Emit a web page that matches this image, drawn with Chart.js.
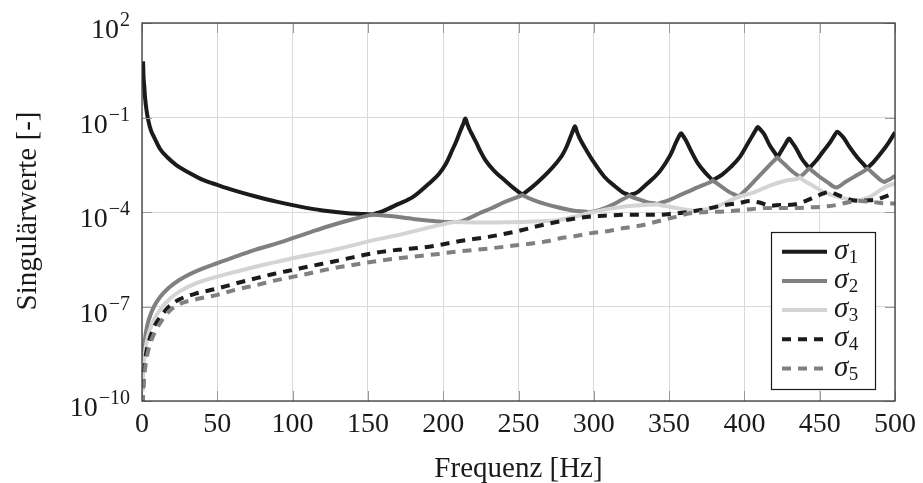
<!DOCTYPE html>
<html><head><meta charset="utf-8">
<script src="https://cdn.jsdelivr.net/npm/chart.js@4/dist/chart.umd.min.js"></script>
<style>html,body{margin:0;padding:0;background:#fff;} #c{display:block;}</style>
</head><body>
<canvas id="c" width="923" height="483"></canvas>
<script>
// ---------- data (values given as log10 exponents) ----------
const xTickValues = [0, 50, 100, 150, 200, 250, 300, 350, 400, 450, 500];
const yTickExponents = [-10, -7, -4, -1, 2];
const seriesNames = ['σ', 'σ', 'σ', 'σ', 'σ'];
const seriesSubscripts = ['1', '2', '3', '4', '5'];
const xTitle = 'Frequenz [Hz]';
const yTitle = 'Singulärwerte [-]';

const freqS1 = [0.7,1,1.5,2,3,4,6,8,12,17,23,30,40,50,60,75,90,105,120,135,145,152,153,154,
  160,170,180,190,197,202,206,209,211.5,213.5,214.7,216,217.5,219,222,225,228,234,241,247,251.3,252.5,253.7,
  258,264,270,275,279,282,284.5,286.3,287.5,288.8,290.5,294,300,307,314,320,322.3,323.5,324.7,
  328,335,342.6,348,351.4,354,356.5,358,359.5,361.3,365,369,374,377.8,379,380.2,
  385,391,397,402,405,407.5,408.8,410.5,413,417,421,422,423,
  425,427.5,429.7,431.5,434,438,441.8,443,444.2,
  448,453,457,460,461.6,463.5,466,470,475,480.3,481.5,482.7,
  486,492,496,500];
const expS1 = [0.78,0.3,0.0,-0.35,-0.77,-1.05,-1.42,-1.62,-2.0,-2.27,-2.52,-2.72,-2.97,-3.14,-3.3,-3.5,-3.68,-3.83,-3.95,-4.03,-4.06,-4.075,-4.08,-4.06,
  -3.97,-3.75,-3.52,-3.12,-2.8,-2.45,-2.04,-1.72,-1.41,-1.18,-1.03,-1.2,-1.38,-1.52,-1.8,-2.1,-2.35,-2.7,-3.0,-3.25,-3.41,-3.46,-3.41,
  -3.25,-3.0,-2.72,-2.45,-2.2,-1.92,-1.62,-1.4,-1.28,-1.45,-1.65,-1.95,-2.42,-2.88,-3.18,-3.4,-3.44,-3.48,-3.45,
  -3.4,-3.12,-2.78,-2.42,-2.14,-1.85,-1.6,-1.5,-1.6,-1.74,-2.1,-2.45,-2.75,-2.94,-3.0,-2.96,
  -2.82,-2.57,-2.25,-1.85,-1.6,-1.4,-1.3,-1.38,-1.52,-1.9,-2.18,-2.27,-2.18,
  -2.02,-1.82,-1.67,-1.78,-1.95,-2.3,-2.54,-2.62,-2.55,
  -2.35,-2.03,-1.78,-1.55,-1.45,-1.52,-1.65,-1.95,-2.27,-2.55,-2.62,-2.56,
  -2.4,-2.05,-1.78,-1.47];

const freqS2 = [0.4,1,2,3.5,5.5,8,12,18,25,35,50,62,75,88,100,113,126,140,152,153,154,
  165,180,195,205,212,218,224,232,241,247,251.3,252.5,253.7,
  260,268,276,287,295.8,297,298.2,305,312,318,322.3,323.5,324.7,
  330,336,340.8,342,343.2,350,358,366,373,377.8,379,380.2,
  385,390,394.8,396,397.2,402,408,414,418,421,422,423,
  427,432,436,437,438,440,441.8,443,444.2,
  449,455,461,467,474,480.3,481.5,482.7,
  486,490,492,493,494,497,500];
const expS2 = [-9.2,-8.55,-8.02,-7.6,-7.28,-7.0,-6.7,-6.4,-6.15,-5.9,-5.62,-5.42,-5.2,-5.02,-4.83,-4.62,-4.42,-4.23,-4.09,-4.08,-4.085,
  -4.13,-4.22,-4.29,-4.32,-4.3,-4.18,-4.04,-3.88,-3.68,-3.57,-3.49,-3.46,-3.49,
  -3.62,-3.75,-3.85,-3.96,-4.0,-4.02,-4.0,-3.92,-3.78,-3.63,-3.52,-3.48,-3.51,
  -3.6,-3.7,-3.73,-3.75,-3.73,-3.62,-3.45,-3.28,-3.14,-3.04,-3.0,-3.04,
  -3.2,-3.37,-3.48,-3.52,-3.47,-3.25,-2.95,-2.65,-2.45,-2.31,-2.27,-2.32,
  -2.5,-2.72,-2.86,-2.9,-2.85,-2.76,-2.67,-2.62,-2.66,
  -2.85,-3.05,-3.22,-3.05,-2.85,-2.67,-2.62,-2.66,
  -2.8,-2.97,-3.03,-3.05,-3.02,-2.95,-2.85];

const freqS3 = [0.4,0.9,2,3.5,5.3,8,12,18,25,35,50,62,76,88,100,113,126.5,140,153,165,179,190,199,208,220,235,250,265,276,287,297,310,322,333,340.8,342,343.2,351,360,369,376,383,390,396,405,417,428,436,437,438,445,453,462,470,476,483,488,493,497,500];
const expS3 = [-9.7,-9.05,-8.45,-8.03,-7.73,-7.42,-7.1,-6.78,-6.52,-6.28,-6.05,-5.9,-5.73,-5.6,-5.47,-5.34,-5.21,-5.06,-4.9,-4.78,-4.63,-4.5,-4.4,-4.32,-4.33,-4.33,-4.32,-4.29,-4.26,-4.15,-4.03,-3.9,-3.82,-3.78,-3.76,-3.75,-3.77,-3.84,-3.92,-3.96,-3.9,-3.8,-3.65,-3.52,-3.4,-3.16,-3.0,-2.93,-2.9,-2.95,-3.15,-3.37,-3.52,-3.6,-3.62,-3.53,-3.38,-3.22,-3.14,-3.1];

const freqS4 = [0.3,0.9,2,3.5,5.3,8,12,18,25,35,50,62,76,88,100,113,126.5,140,153,170,186,197,208,220,230,240,250,260,270,277,288,298,310,320,332,342,353,364,375,387,396,404,410,417,424,433,440,447,452,456,460,465,471,477,483,488,493,497,500];
const expS4 = [-10.1,-9.35,-8.74,-8.3,-8.0,-7.65,-7.34,-7.0,-6.77,-6.6,-6.43,-6.27,-6.1,-5.96,-5.84,-5.71,-5.58,-5.44,-5.31,-5.2,-5.13,-5.05,-4.95,-4.86,-4.79,-4.7,-4.6,-4.48,-4.37,-4.3,-4.2,-4.14,-4.11,-4.09,-4.09,-4.09,-4.05,-3.99,-3.9,-3.78,-3.72,-3.65,-3.7,-3.8,-3.78,-3.76,-3.66,-3.52,-3.42,-3.36,-3.42,-3.52,-3.62,-3.64,-3.63,-3.6,-3.52,-3.45,-3.4];

const freqS5 = [0.4,0.9,2,3.5,5.3,8,12,18,25,35,50,62,76,88,100,113,126.5,140,153,170,186,197,208,220,230,250,270,277,288,298,310,320,332,342,353,364,376,387,400,411,422,433,445,455,463,470,477,485,492,500];
const expS5 = [-10.1,-9.65,-9.0,-8.54,-8.2,-7.87,-7.53,-7.15,-6.92,-6.78,-6.63,-6.47,-6.32,-6.18,-6.06,-5.93,-5.79,-5.68,-5.58,-5.47,-5.39,-5.33,-5.26,-5.21,-5.16,-5.05,-4.92,-4.84,-4.76,-4.67,-4.6,-4.51,-4.42,-4.3,-4.17,-4.04,-4.0,-3.98,-3.93,-3.88,-3.87,-3.87,-3.85,-3.82,-3.76,-3.68,-3.65,-3.68,-3.72,-3.73];

// ---------- styling ----------
const SERIF = '"Liberation Serif", "DejaVu Serif", serif';
const styles = [
  {color: '#1c1a1a', dash: []},
  {color: '#808080', dash: []},
  {color: '#d4d4d4', dash: []},
  {color: '#1c1a1a', dash: [9, 7]},
  {color: '#808080', dash: [9, 7]}
];
const freqs = [freqS1, freqS2, freqS3, freqS4, freqS5];
const exps = [expS1, expS2, expS3, expS4, expS5];

const datasets = freqs.map((fr, k) => ({
  label: seriesNames[k] + seriesSubscripts[k],
  data: fr.map((f, i) => ({x: f, y: Math.pow(10, exps[k][i])})),
  borderColor: styles[k].color,
  borderDash: styles[k].dash,
  borderWidth: 4,
  borderCapStyle: 'butt',
  borderJoinStyle: 'round',
  pointRadius: 0,
  cubicInterpolationMode: 'monotone',
  fill: false,
  order: 5 - k
}));

const decor = {
  id: 'decor',
  beforeDraw(chart) {
    const c = chart.ctx;
    c.save(); c.fillStyle = '#fff'; c.fillRect(0, 0, chart.width, chart.height); c.restore();
  },
  afterDatasetsDraw(chart) {
    const c = chart.ctx, a = chart.chartArea;
    const xs = chart.scales.x, ys = chart.scales.y;
    c.save();
    c.strokeStyle = '#9a9a9a'; c.lineWidth = 1;
    const tl = 10;
    xTickValues.forEach(v => {
      const px = Math.round(xs.getPixelForValue(v)) + 0.5;
      c.beginPath(); c.moveTo(px, a.bottom); c.lineTo(px, a.bottom - tl); c.stroke();
      c.beginPath(); c.moveTo(px, a.top); c.lineTo(px, a.top + tl); c.stroke();
    });
    yTickExponents.forEach(e => {
      const py = Math.round(ys.getPixelForValue(Math.pow(10, e))) + 0.5;
      c.beginPath(); c.moveTo(a.left, py); c.lineTo(a.left + tl, py); c.stroke();
      c.beginPath(); c.moveTo(a.right, py); c.lineTo(a.right - tl, py); c.stroke();
    });
    c.strokeStyle = '#3a3a3a'; c.lineWidth = 1.3;
    c.strokeRect(a.left, a.top, a.right - a.left, a.bottom - a.top);
    c.restore();
  },
  afterDraw(chart) {
    const c = chart.ctx, a = chart.chartArea;
    const ys = chart.scales.y;
    c.save();
    c.fillStyle = '#1a1a1a';
    yTickExponents.forEach(e => {
      const py = ys.getPixelForValue(Math.pow(10, e));
      const sup = (e < 0 ? '\u2212' : '') + Math.abs(e);
      c.font = '20px ' + SERIF;
      c.textAlign = 'right'; c.textBaseline = 'alphabetic';
      const w = c.measureText(sup).width;
      c.fillText(sup, 130, py + 3);
      c.font = '28px ' + SERIF;
      c.fillText('10', 130 - w - 1, py + 15);
    });
    c.font = '29px ' + SERIF;
    c.textAlign = 'center'; c.textBaseline = 'alphabetic';
    c.fillText(xTitle, (a.left + a.right) / 2, 477);
    c.save();
    c.translate(36, 211);
    c.rotate(-Math.PI / 2);
    c.fillText(yTitle, 0, 0);
    c.restore();
    const bx = 771, by = 232, bw = 104, bh = 157;
    c.fillStyle = '#fff'; c.fillRect(bx, by, bw, bh);
    c.strokeStyle = '#1a1a1a'; c.lineWidth = 1.2;
    c.strokeRect(bx + 0.5, by + 0.5, bw, bh);
    chart.data.datasets.forEach((ds, k) => {
      const ry = 251.7 + k * 29.2;
      c.save();
      c.strokeStyle = ds.borderColor; c.lineWidth = 4; c.lineCap = 'butt';
      c.setLineDash(ds.borderDash || []);
      c.beginPath(); c.moveTo(782, ry); c.lineTo(827, ry); c.stroke();
      c.restore();
      c.fillStyle = '#1a1a1a';
      c.textAlign = 'left'; c.textBaseline = 'alphabetic';
      c.font = 'italic 29px ' + SERIF;
      c.fillText(seriesNames[k], 834, ry + 7);
      const w = c.measureText(seriesNames[k]).width;
      c.font = '19px ' + SERIF;
      c.fillText(seriesSubscripts[k], 834 + w + 0.5, ry + 11);
    });
    c.restore();
  }
};

new Chart(document.getElementById('c').getContext('2d'), {
  type: 'line',
  data: {datasets},
  options: {
    responsive: false,
    animation: false,
    devicePixelRatio: 1,
    layout: {padding: {top: 23, right: 25, left: 0, bottom: 0}},
    plugins: {legend: {display: false}, tooltip: {enabled: false}},
    scales: {
      x: {
        type: 'linear', min: 0, max: 500,
        afterBuildTicks: s => { s.ticks = xTickValues.map(v => ({value: v})); },
        afterFit: s => { s.height = 82; },
        grid: {color: '#d9d9d9', lineWidth: 1, drawTicks: false},
        border: {display: false},
        ticks: {font: {family: SERIF, size: 28}, color: '#1a1a1a', padding: 7, maxRotation: 0, autoSkip: false}
      },
      y: {
        type: 'logarithmic', min: 1e-10, max: 1e2,
        afterBuildTicks: s => { s.ticks = yTickExponents.map(e => ({value: Math.pow(10, e)})); },
        afterFit: s => { s.width = 142; },
        grid: {color: '#d9d9d9', lineWidth: 1, drawTicks: false},
        border: {display: false},
        ticks: {display: false}
      }
    }
  },
  plugins: [decor]
});
</script>
</body></html>
